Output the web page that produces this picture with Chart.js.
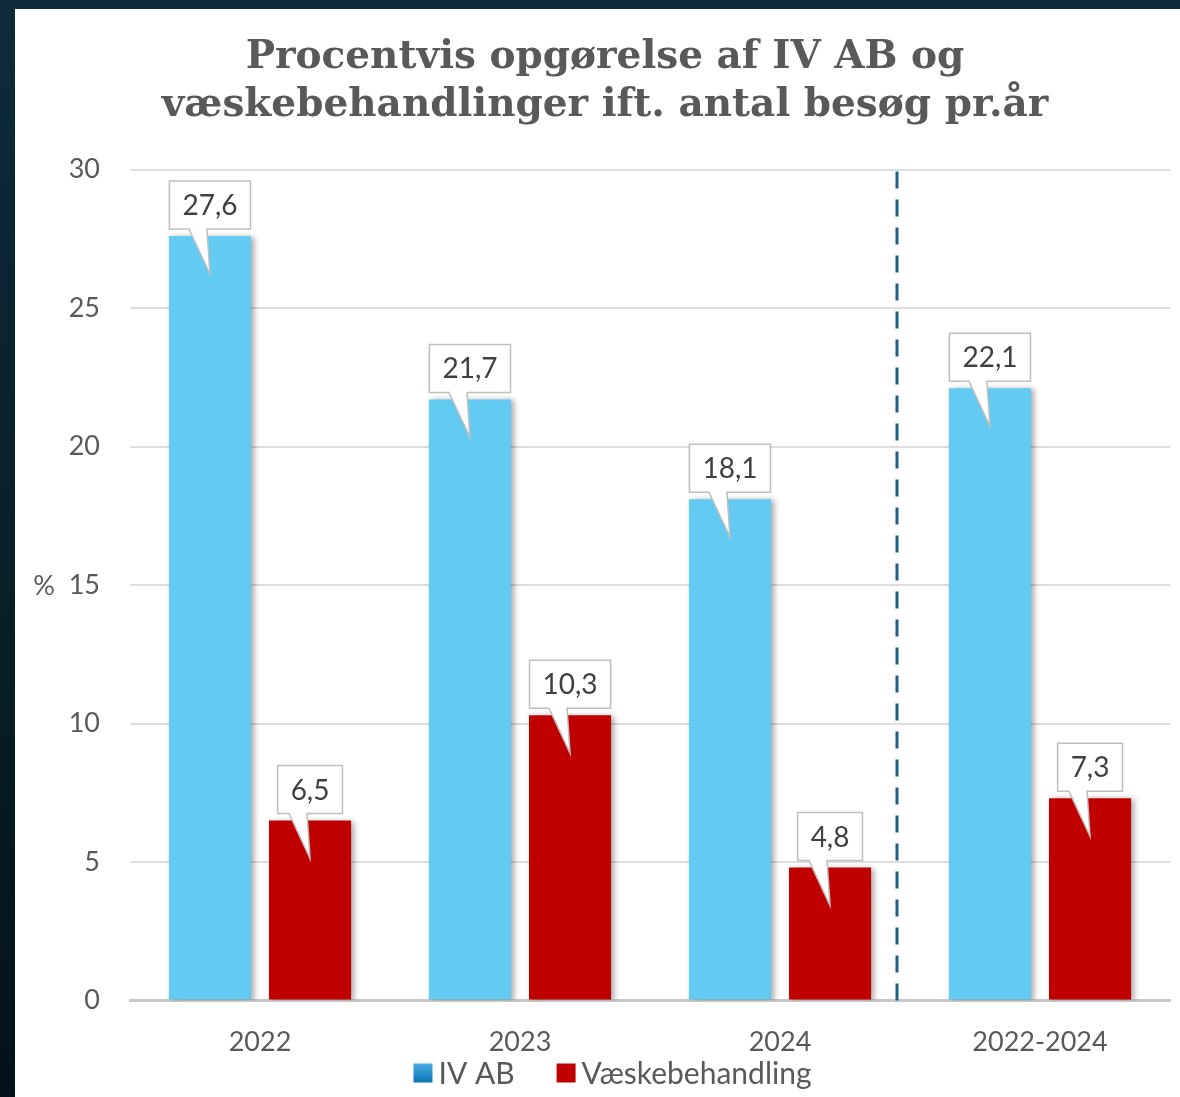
<!DOCTYPE html>
<html>
<head>
<meta charset="utf-8">
<script src="https://cdn.jsdelivr.net/npm/chart.js@4"></script>
<style>
  html, body { margin: 0; padding: 0; }
  body { width: 1180px; height: 1097px; overflow: hidden; background: linear-gradient(180deg, #0d2b3a 0%, #082029 50%, #031218 100%); }
  #wrap { position: absolute; left: 15px; top: 9px; width: 1165px; height: 1088px; background: #fff; }
</style>
</head>
<body>
<div id="wrap"><canvas id="procentChart" width="1165" height="1088"></canvas></div>
<script>
var categories = ["2022", "2023", "2024", "2022-2024"];
var ivAB = [27.6, 21.7, 18.1, 22.1];
var vaeske = [6.5, 10.3, 4.8, 7.3];
var yTicks = [0, 5, 10, 15, 20, 25, 30];
var seriesNames = ["IV AB", "Væskebehandling"];

var FONT = "Lato, 'Open Sans', sans-serif";

function fmt(v) { return v.toFixed(1).replace('.', ','); }

// bars with shadow, callout labels, dashed separator, % label, legend
var decorPlugin = {
  id: 'decor',
  beforeDatasetsDraw: function(chart) {
    var ctx = chart.ctx;
    ctx.save();
    ctx.shadowColor = 'rgba(0,0,0,0.35)';
    ctx.shadowBlur = 6;
    ctx.shadowOffsetX = 3;
    ctx.shadowOffsetY = 1;
  },
  afterDatasetsDraw: function(chart) {
    var ctx = chart.ctx;
    ctx.restore();
    var area = chart.chartArea;
    var xs = chart.scales.x;

    // dashed separator between 2024 and total
    var sx = Math.round(xs.getPixelForValue(2.45));
    ctx.save();
    ctx.strokeStyle = '#1b6285';
    ctx.lineWidth = 3;
    ctx.setLineDash([17, 11]);
    ctx.beginPath();
    ctx.moveTo(sx, area.top + 2);
    ctx.lineTo(sx, area.bottom);
    ctx.stroke();
    ctx.restore();

    // callouts
    ctx.save();
    ctx.font = '28px ' + FONT;
    chart.data.datasets.forEach(function(ds, di) {
      var meta = chart.getDatasetMeta(di);
      meta.data.forEach(function(bar, i) {
        var txt = fmt(ds.data[i]);
        var tw = ctx.measureText(txt).width;
        var w = tw + 26, h = 48;
        var cx = bar.x;
        var bottom = bar.y - 7;
        var top = bottom - h;
        var left = cx - w / 2, right = cx + w / 2;
        var tipX = cx, tipY = bar.y + 38;
        ctx.beginPath();
        ctx.moveTo(left, top);
        ctx.lineTo(right, top);
        ctx.lineTo(right, bottom);
        ctx.lineTo(cx - 3, bottom);
        ctx.lineTo(tipX, tipY);
        ctx.lineTo(cx - 21, bottom);
        ctx.lineTo(left, bottom);
        ctx.closePath();
        ctx.fillStyle = '#ffffff';
        ctx.fill();
        ctx.strokeStyle = '#bfbfbf';
        ctx.lineWidth = 1.5;
        ctx.stroke();
        ctx.fillStyle = '#404040';
        ctx.textAlign = 'center';
        ctx.textBaseline = 'middle';
        ctx.fillText(txt, cx, top + h / 2 + 1);
      });
    });
    ctx.restore();
  },
  afterDraw: function(chart) {
    var ctx = chart.ctx;
    var ys = chart.scales.y;
    ctx.save();
    ctx.font = '27px ' + FONT;
    ctx.fillStyle = '#595959';
    ctx.textAlign = 'center';
    ctx.textBaseline = 'middle';
    ctx.fillText('%', 29, ys.getPixelForValue(15) + 1);

    // legend
    ctx.font = '30px ' + FONT;
    var box = 19, gap = 6, between = 42;
    var items = chart.data.datasets.map(function(ds) {
      return { label: ds.label, w: box + gap + ctx.measureText(ds.label).width, color: ds.legendColor };
    });
    var total = items.reduce(function(s, it) { return s + it.w; }, 0) + between * (items.length - 1);
    var x = chart.width / 2 + 15 - total / 2;
    var y = 1064;
    items.forEach(function(it) {
      var fill = it.color;
      if (Array.isArray(fill)) {
        var g = ctx.createLinearGradient(x, y - box / 2, x, y + box / 2);
        g.addColorStop(0, fill[0]);
        g.addColorStop(1, fill[1]);
        fill = g;
      }
      ctx.fillStyle = fill;
      ctx.fillRect(x, y - box / 2, box, box);
      ctx.fillStyle = '#595959';
      ctx.textAlign = 'left';
      ctx.fillText(it.label, x + box + gap, y + 1);
      x += it.w + between;
    });
    ctx.restore();
  }
};

new Chart("procentChart", {
  type: "bar",
  data: {
    labels: categories,
    datasets: [
      { label: seriesNames[0], data: ivAB, backgroundColor: '#63cbf2', legendColor: ['#49aee2', '#0a72b4'] },
      { label: seriesNames[1], data: vaeske, backgroundColor: '#c00000', legendColor: '#c00000' }
    ]
  },
  options: {
    responsive: false,
    animation: false,
    categoryPercentage: 0.77,
    barPercentage: 0.82,
    layout: { padding: { left: 25, right: 10, top: 14, bottom: 22 } },
    plugins: {
      legend: { display: false },
      tooltip: { enabled: false },
      title: {
        display: true,
        text: ["Procentvis opgørelse af IV AB og", "væskebehandlinger ift. antal besøg pr.år"],
        color: '#595959',
        font: { family: "'DejaVu Serif', serif", size: 39, weight: 'bold', lineHeight: 1.25 },
        padding: { top: 10, bottom: 39 }
      }
    },
    scales: {
      x: {
        grid: { display: false },
        border: { color: '#c8c8c8', width: 3 },
        ticks: { color: '#595959', font: { family: FONT, size: 27 }, padding: 17 }
      },
      y: {
        min: 0, max: 30,
        afterFit: function(scale) { scale.width = 90; },
        afterBuildTicks: function(scale) { scale.ticks = yTicks.map(function(v) { return { value: v }; }); },
        grid: { color: '#dedede', lineWidth: 2, drawTicks: false },
        border: { display: false },
        ticks: { color: '#595959', font: { family: FONT, size: 27 }, padding: 30 }
      }
    }
  },
  plugins: [decorPlugin]
});
</script>
</body>
</html>
